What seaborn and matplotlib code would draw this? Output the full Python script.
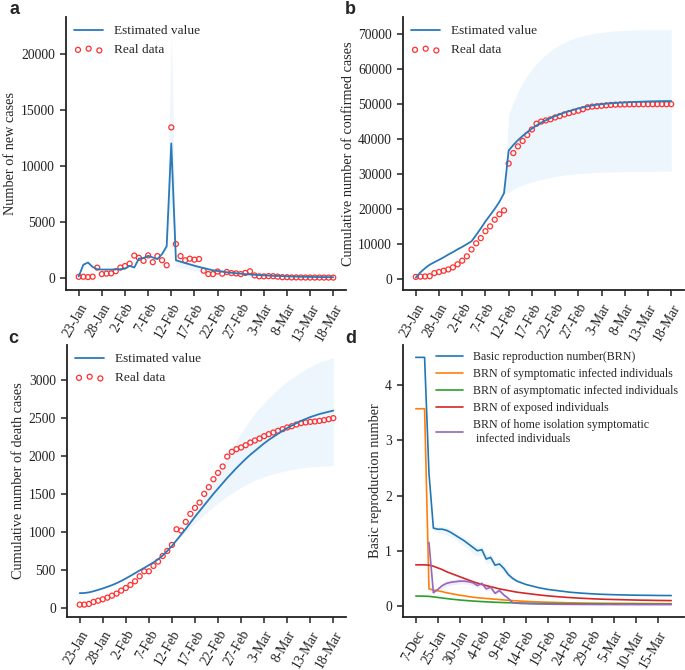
import numpy as np
import pandas as pd
import seaborn as sns
import matplotlib
matplotlib.use("Agg")
import matplotlib.pyplot as plt

# ---- panel a-c x axis (days from 23-Jan) ----
date_ticks = ['23-Jan', '28-Jan', '2-Feb', '7-Feb', '12-Feb', '17-Feb', '22-Feb',
              '27-Feb', '3-Mar', '8-Mar', '13-Mar', '18-Mar']

# a: new cases
new_real = [70, 77, 46, 80, 892, 315, 356, 378, 576, 894, 1033, 1242, 1967, 1766,
            1501, 1985, 1379, 1921, 1552, 1104, 13436, 3000, 1923, 1548, 1690, 1600,
            1660, 615, 319, 314, 541, 348, 499, 401, 372, 313, 420, 565, 193, 114,
            111, 131, 126, 83, 36, 36, 13, 17, 8, 5, 4, 4, 4, 1, 1, 0]
new_est = [100, 1150, 1350, 950, 750, 720, 720, 720, 730, 750, 800, 1050, 900, 1700,
           1750, 1950, 1800, 1650, 2100, 2800, 12000, 1550, 1420, 1300, 1180, 1060,
           950, 850, 750, 650, 590, 530, 480, 430, 390, 350, 310, 280, 250, 225, 200,
           180, 160, 145, 130, 115, 100, 90, 80, 70, 60, 55, 50, 45, 40, 35]
new_band_start = 18
new_upper = [2100, 3000, 22200, 1750, 1620, 1500, 1380, 1260, 1140, 1030, 920, 820, 700, 600]
new_lower = [2000, 2500, 6500, 1000, 900, 800, 720, 650, 580, 520, 470, 440, 450, 500]

# b: cumulative confirmed
conf_real = [495, 572, 618, 698, 1590, 1905, 2261, 2639, 3215, 4109, 5142, 6384, 8351,
             10117, 11618, 13603, 14982, 16902, 18454, 19558, 32994, 35991, 37914,
             39462, 41152, 42752, 44412, 45027, 45346, 45660, 46201, 46607, 47071,
             47441, 47824, 48137, 48557, 49122, 49315, 49426, 49540, 49671, 49797,
             49871, 49912, 49948, 49965, 49978, 49986, 49991, 49995, 49999, 50003,
             50004, 50005, 50005]
conf_est = [300, 1800, 3000, 4000, 4700, 5400, 6100, 6900, 7600, 8400, 9100, 9900,
            10700, 12500, 14400, 16400, 18200, 20000, 22000, 24500, 36700, 38300,
            39700, 40900, 42000, 43000, 43900, 44700, 45400, 46000, 46600, 47100,
            47600, 48000, 48400, 48800, 49100, 49400, 49650, 49850, 50000, 50150,
            50250, 50350, 50450, 50500, 50580, 50650, 50700, 50750, 50800, 50830,
            50860, 50880, 50900, 50920]
conf_band_start = 19
conf_upper = [24500, 47000, 50500, 53500, 56000, 58200, 60000, 61600, 63000, 64200,
              65300, 66200, 67000, 67700, 68300, 68800, 69200, 69600, 69900, 70200,
              70400, 70600, 70750, 70900, 71000, 71100, 71150, 71200, 71250, 71300,
              71330, 71360, 71380, 71400, 71420, 71430, 71440]
conf_lower = [24500, 24700, 25600, 26300, 26800, 27300, 27700, 28100, 28400, 28700,
              29000, 29300, 29500, 29700, 29850, 30000, 30100, 30200, 30280, 30350,
              30420, 30480, 30530, 30570, 30610, 30640, 30670, 30700, 30720, 30740,
              30760, 30770, 30780, 30790, 30800, 30810, 30820]

# c: cumulative deaths
death_real = [44, 44, 53, 79, 96, 114, 136, 162, 189, 228, 263, 303, 351, 417, 482,
              482, 553, 610, 684, 750, 829, 1035, 1018, 1132, 1237, 1316, 1386, 1500,
              1588, 1693, 1776, 1860, 1991, 2053, 2088, 2110, 2140, 2175, 2202, 2228,
              2259, 2285, 2307, 2329, 2351, 2373, 2390, 2412, 2430, 2439, 2447, 2452,
              2460, 2469, 2482, 2496]
death_est = [195, 197, 205, 220, 238, 257, 278, 300, 326, 355, 388, 422, 457, 493,
             527, 563, 600, 640, 690, 750, 815, 890, 965, 1040, 1120, 1200, 1275, 1350,
             1425, 1500, 1570, 1640, 1710, 1775, 1840, 1900, 1960, 2015, 2065, 2115,
             2165, 2210, 2250, 2290, 2330, 2365, 2400, 2430, 2460, 2485, 2510, 2530,
             2550, 2565, 2580, 2595]
death_band_start = 20
death_upper = [815, 900, 1000, 1090, 1190, 1290, 1390, 1490, 1590, 1690, 1790, 1890,
               1990, 2100, 2200, 2300, 2390, 2480, 2560, 2630, 2700, 2760, 2820, 2880,
               2930, 2980, 3020, 3060, 3100, 3140, 3170, 3200, 3230, 3250, 3270, 3295]
death_lower = [815, 880, 940, 1000, 1060, 1115, 1170, 1225, 1280, 1330, 1380, 1425,
               1470, 1510, 1550, 1585, 1620, 1650, 1680, 1705, 1725, 1745, 1765, 1780,
               1795, 1808, 1820, 1830, 1840, 1848, 1855, 1860, 1864, 1867, 1869, 1870]

# d: basic reproduction numbers
brn_ticks = ['7-Dec', '25-Jan', '30-Jan', '4-Feb', '9-Feb', '14-Feb', '19-Feb',
             '24-Feb', '29-Feb', '5-Mar', '10-Mar', '15-Mar']
brn_total = [4.5, 4.5, 4.5, 2.4, 1.41, 1.39, 1.39, 1.37, 1.33, 1.28, 1.23, 1.18, 1.12,
             1.06, 1.0, 1.02, 0.85, 0.88, 0.74, 0.76, 0.68, 0.57, 0.5, 0.45, 0.42, 0.39,
             0.37, 0.35, 0.33, 0.315, 0.3, 0.29, 0.28, 0.27, 0.26, 0.25, 0.243, 0.237,
             0.231, 0.226, 0.221, 0.217, 0.213, 0.21, 0.207, 0.205, 0.203, 0.201, 0.199,
             0.197, 0.196, 0.195, 0.194, 0.193, 0.192, 0.191, 0.19, 0.19, 0.189]
brn_sympt = [3.57, 3.57, 3.57, 0.31, 0.29, 0.275, 0.26, 0.24, 0.225, 0.21, 0.195, 0.185,
             0.17, 0.16, 0.15, 0.143, 0.136, 0.13, 0.123, 0.117, 0.11, 0.104, 0.098,
             0.093, 0.088, 0.084, 0.08, 0.077, 0.074, 0.071, 0.068, 0.066, 0.064, 0.062,
             0.06, 0.058, 0.057, 0.055, 0.054, 0.053, 0.052, 0.051, 0.05, 0.05, 0.049,
             0.049, 0.048, 0.048, 0.047, 0.047, 0.046, 0.046, 0.045, 0.045, 0.044,
             0.044, 0.044, 0.043, 0.043]
brn_asym = [0.18, 0.18, 0.178, 0.175, 0.165, 0.155, 0.145, 0.135, 0.125, 0.117, 0.109,
            0.102, 0.096, 0.09, 0.085, 0.08, 0.076, 0.072, 0.068, 0.065, 0.062, 0.06,
            0.058, 0.056, 0.054, 0.052, 0.05, 0.049, 0.048, 0.047, 0.046, 0.045, 0.044,
            0.043, 0.042, 0.041, 0.041, 0.04, 0.04, 0.039, 0.039, 0.038, 0.038, 0.038,
            0.037, 0.037, 0.037, 0.036, 0.036, 0.036, 0.036, 0.035, 0.035, 0.035,
            0.035, 0.035, 0.035, 0.035, 0.035]
brn_exposed = [0.745, 0.745, 0.745, 0.74, 0.72, 0.69, 0.66, 0.62, 0.59, 0.56, 0.53,
               0.5, 0.47, 0.44, 0.415, 0.39, 0.37, 0.35, 0.33, 0.31, 0.295, 0.28, 0.265,
               0.25, 0.24, 0.23, 0.22, 0.21, 0.2, 0.192, 0.184, 0.177, 0.17, 0.164,
               0.158, 0.153, 0.148, 0.143, 0.139, 0.135, 0.131, 0.128, 0.125, 0.122,
               0.12, 0.118, 0.116, 0.114, 0.112, 0.11, 0.108, 0.106, 0.105, 0.104,
               0.102, 0.101, 0.1, 0.099, 0.098]
brn_home = [np.nan, np.nan, np.nan, 1.15, 0.24, 0.3, 0.37, 0.41, 0.43, 0.44, 0.45,
            0.45, 0.44, 0.42, 0.37, 0.41, 0.31, 0.34, 0.23, 0.28, 0.2, 0.14, 0.06, 0.05,
            0.045, 0.042, 0.04, 0.038, 0.036, 0.035, 0.034, 0.033, 0.032, 0.031, 0.03,
            0.03, 0.029, 0.029, 0.028, 0.028, 0.028, 0.027, 0.027, 0.027, 0.027, 0.026,
            0.026, 0.026, 0.026, 0.026, 0.025, 0.025, 0.025, 0.025, 0.025, 0.025,
            0.025, 0.025, 0.025]
brn_band_start = 4
brn_upper = [1.45, 1.45, 1.44, 1.43, 1.39, 1.34, 1.29, 1.24, 1.19, 1.13, 1.07, 1.08,
             0.93, 0.95, 0.82, 0.84, 0.74, 0.64, 0.55, 0.49, 0.45]
brn_lower = [1.37, 1.33, 1.31, 1.29, 1.25, 1.2, 1.14, 1.08, 1.02, 0.95, 0.9, 0.92,
             0.76, 0.79, 0.65, 0.68, 0.6, 0.52, 0.46, 0.43, 0.41]
home_band_start = 5
home_upper = [0.33, 0.41, 0.46, 0.48, 0.49, 0.5, 0.5, 0.49, 0.47, 0.42, 0.45, 0.36,
              0.38, 0.27, 0.31, 0.23, 0.16, 0.07]
home_lower = [0.26, 0.32, 0.36, 0.38, 0.39, 0.4, 0.4, 0.39, 0.37, 0.33, 0.37, 0.27,
              0.3, 0.2, 0.25, 0.17, 0.12, 0.05]

brn_labels = ['Basic reproduction number(BRN)',
              'BRN of symptomatic infected individuals',
              'BRN of asymptomatic infected individuals',
              'BRN of exposed individuals',
              'BRN of home isolation symptomatic\n infected individuals']

sns.set_theme(style="ticks")
plt.rcParams['font.family'] = ['Liberation Serif', 'DejaVu Serif']
plt.rcParams.update({
    'font.size': 10, 'axes.labelsize': 10.3, 'xtick.labelsize': 9.8,
    'ytick.labelsize': 9.8, 'legend.fontsize': 9.6, 'axes.labelpad': 2.5,
    'axes.linewidth': 1.3, 'xtick.major.size': 4.5, 'ytick.major.size': 4.5,
    'xtick.major.width': 1.1, 'ytick.major.width': 1.1,
    'axes.edgecolor': '#222222', 'xtick.color': '#222222', 'ytick.color': '#222222',
})

BLUE = '#2a7ab9'
BAND = '#edf6fc'
RED = '#ff3030'

fig = plt.figure(figsize=(6.85, 6.7), dpi=100)
W, H = 685, 670


def add_ax(left, top, right, bottom):
    return fig.add_axes([left / W, 1 - bottom / H, (right - left) / W, (bottom - top) / H])


def fit_panel(ax, est, real, band_start, upper, lower, ylabel):
    days = np.arange(len(real))
    bx = np.arange(band_start, band_start + len(upper))
    ax.fill_between(bx, lower, upper, color=BAND, lw=0)
    sns.lineplot(x=days, y=est, ax=ax, color=BLUE, lw=1.3, label='Estimated value')
    sns.scatterplot(x=days, y=real, ax=ax, marker='o', s=13, facecolors='none',
                    edgecolor=RED, linewidth=0.9, label='Real data')
    ax.set_xticks(np.arange(0, len(real), 5))
    ax.set_xticklabels(date_ticks, rotation=60, ha='right', rotation_mode='anchor')
    ax.set_ylabel(ylabel)
    ax.legend(loc='upper left', frameon=False, scatterpoints=3,
              borderaxespad=0.2, handlelength=2.2)
    sns.despine(ax=ax)


ax_a = add_ax(66, 17, 346, 290)
fit_panel(ax_a, new_est, new_real, new_band_start, new_upper, new_lower,
          'Number of new cases')
ax_b = add_ax(403, 17, 684, 290)
fit_panel(ax_b, conf_est, conf_real, conf_band_start, conf_upper, conf_lower,
          'Cumulative number of confirmed cases')
ax_c = add_ax(67, 345, 346, 617)
fit_panel(ax_c, death_est, death_real, death_band_start, death_upper, death_lower,
          'Cumulative number of death cases')

ax_d = add_ax(403, 345, 684, 617)
idx = np.arange(len(brn_total))
ax_d.fill_between(np.arange(brn_band_start, brn_band_start + len(brn_upper)),
                  brn_lower, brn_upper, color=BAND, lw=0)
ax_d.fill_between(np.arange(home_band_start, home_band_start + len(home_upper)),
                  home_lower, home_upper, color='#f3edf7', lw=0)
colors = ['#1f77b4', '#ff7f0e', '#2ca02c', '#d62728', '#9467bd']
for vals, col, lab in zip([brn_total, brn_sympt, brn_asym, brn_exposed, brn_home],
                          colors, brn_labels):
    sns.lineplot(x=idx, y=vals, ax=ax_d, color=col, lw=1.2, label=lab)
ax_d.set_xticks(np.arange(0, 56, 5))
ax_d.set_xticklabels(brn_ticks, rotation=60, ha='right', rotation_mode='anchor')
ax_d.set_ylabel('Basic reproduction number')
ax_d.legend(loc='upper right', frameon=False, borderaxespad=0.1, fontsize=8.6,
            labelspacing=0.42, handlelength=2.3)
sns.despine(ax=ax_d)

for lab, x, y in [('a', 10, 14), ('b', 345, 14), ('c', 8, 343), ('d', 345, 343)]:
    fig.text(x / W, 1 - y / H, lab, fontsize=13, fontweight='bold',
             family='Liberation Sans')

fig.savefig('out.png', dpi=100)
